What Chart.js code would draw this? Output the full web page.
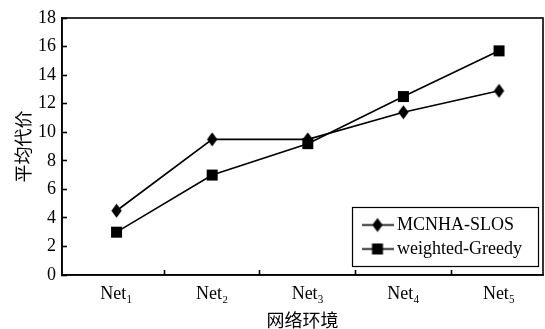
<!DOCTYPE html>
<html>
<head>
<meta charset="utf-8">
<script src="https://cdn.jsdelivr.net/npm/chart.js@4.4.1/dist/chart.umd.min.js"></script>
<style>
  html, body { margin: 0; padding: 0; background: #ffffff; overflow: hidden; }
  #wrap { width: 545px; height: 329px; }
</style>
</head>
<body>
<div id="wrap"><canvas id="c" width="545" height="329"></canvas></div>
<script>
// ---- data ----
const categories = ['Net\u2081', 'Net\u2082', 'Net\u2083', 'Net\u2084', 'Net\u2085'];
const seriesNames = ['MCNHA-SLOS', 'weighted-Greedy'];
const mcnhaSlos = [4.5, 9.5, 9.5, 11.4, 12.9];
const weightedGreedy = [3.0, 7.0, 9.2, 12.5, 15.7];
const yTicks = [0, 2, 4, 6, 8, 10, 12, 14, 16, 18];
const xTitle = '网络环境';
const yTitle = '平均代价';

// axis range (category positions 1..n, plot edges a bit beyond)
const xMin = 0.43, xMax = 5.46;

const serif = 'Liberation Serif';
const cjk = 'Noto Sans CJK SC';

function makeMarker(shape, withLine) {
  const w = withLine ? 32 : 13, h = 17;
  const c = document.createElement('canvas');
  c.width = w; c.height = h;
  const g = c.getContext('2d');
  g.fillStyle = '#000'; g.strokeStyle = '#000';
  const cx = w / 2, cy = h / 2;
  if (withLine) {
    g.lineWidth = 1.6;
    g.beginPath(); g.moveTo(0, cy); g.lineTo(w, cy); g.stroke();
  }
  g.beginPath();
  if (shape === 'diamond') {
    g.moveTo(cx, cy - 7); g.lineTo(cx + 5.2, cy); g.lineTo(cx, cy + 7); g.lineTo(cx - 5.2, cy); g.closePath();
  } else {
    g.rect(cx - 5.5, cy - 5.5, 11, 11);
  }
  g.fill();
  return c;
}
const pointImgs = [makeMarker('diamond', false), makeMarker('square', false)];
const legendImgs = [makeMarker('diamond', true), makeMarker('square', true)];

const seriesValues = [mcnhaSlos, weightedGreedy];
const datasets = seriesValues.map((vals, s) => ({
  label: seriesNames[s],
  data: vals.map((v, i) => ({ x: i + 1, y: v })),
  borderColor: '#000',
  backgroundColor: '#000',
  borderWidth: 1.6,
  pointStyle: pointImgs[s],
  pointRadius: 6,
  pointHoverRadius: 6,
  tension: 0,
  fill: false
}));

function zeroPadding(scale) {
  scale.paddingLeft = 0; scale.paddingRight = 0;
  scale.paddingTop = 0; scale.paddingBottom = 0;
}

const framePlugin = {
  id: 'frameAndLegendBox',
  afterLayout(chart) {
    const a = chart.chartArea;
    const xs = chart.scales.x;
    // plot frame reaches to 2px from the right edge
    const targetRight = chart.width - 2;
    if (a.right !== targetRight) {
      a.right = targetRight;
      a.width = a.right - a.left;
      xs.right = targetRight;
      xs.width = xs.right - xs.left;
      xs.configure();
    }
    const lg = chart.legend;
    const boxLeft = a.right - 191, boxTop = a.bottom - 68;
    lg.left = boxLeft + 9;
    lg.right = lg.left + 180;
    lg.top = boxTop + 3;
    lg.bottom = lg.top + 60;
    chart.$legendBox = { x: boxLeft, y: boxTop, w: 186, h: 59 };
  },
  afterDraw(chart) {
    const ctx = chart.ctx, a = chart.chartArea, b = chart.$legendBox;
    ctx.save();
    ctx.strokeStyle = '#000';
    ctx.lineWidth = 1.6;
    ctx.strokeRect(a.left, a.top, a.right - a.left, a.bottom - a.top);
    if (b) {
      ctx.lineWidth = 1.2;
      ctx.strokeRect(b.x + 0.5, b.y + 0.5, b.w, b.h);
    }
    ctx.restore();
  }
};

new Chart(document.getElementById('c'), {
  type: 'line',
  data: { datasets },
  plugins: [framePlugin],
  options: {
    responsive: false,
    devicePixelRatio: 1,
    animation: false,
    layout: { padding: { left: 8, right: 2, top: 18, bottom: 0 } },
    plugins: {
      tooltip: { enabled: false },
      legend: {
        position: 'chartArea',
        align: 'start',
        labels: {
          font: { family: serif, size: 18 },
          color: '#000',
          usePointStyle: true,
          pointStyleWidth: 21,
          padding: 6,
          generateLabels(chart) {
            const items = Chart.defaults.plugins.legend.labels.generateLabels(chart);
            items.forEach((it, i) => { it.pointStyle = legendImgs[i]; it.fontColor = '#000'; });
            return items;
          }
        }
      }
    },
    scales: {
      x: {
        type: 'linear',
        min: xMin,
        max: xMax,
        afterBuildTicks(axis) {
          const t = [];
          categories.forEach((_, i) => {
            t.push({ value: i + 1 });
            if (i < categories.length - 1) t.push({ value: i + 1.5 });
          });
          axis.ticks = t;
        },
        afterFit(scale) { scale.height = 54; zeroPadding(scale); },
        ticks: {
          autoSkip: false,
          maxRotation: 0,
          font: { family: serif, size: 18 },
          color: '#000',
          padding: 13,
          callback: (value) => Number.isInteger(value) ? categories[value - 1] : ''
        },
        grid: {
          drawOnChartArea: false,
          drawTicks: true,
          tickLength: -5,
          tickWidth: 1.6,
          tickColor: (ctx) => (ctx.tick && Number.isInteger(ctx.tick.value)) ? 'rgba(0,0,0,0)' : '#000'
        },
        border: { display: true, color: '#000', width: 1.6 },
        title: {
          display: true,
          text: xTitle,
          color: '#000',
          font: { family: cjk, size: 18, lineHeight: 1 },
          padding: { top: 6, bottom: 0 }
        }
      },
      y: {
        min: 0,
        max: 18,
        afterBuildTicks(axis) { axis.ticks = yTicks.map(v => ({ value: v })); },
        afterFit(scale) { scale.width = 54; zeroPadding(scale); },
        ticks: {
          font: { family: serif, size: 18 },
          color: '#000',
          padding: 11
        },
        grid: {
          drawOnChartArea: false,
          drawTicks: true,
          tickLength: -5,
          tickWidth: 1.6,
          tickColor: '#000'
        },
        border: { display: true, color: '#000', width: 1.6 },
        title: {
          display: true,
          text: yTitle,
          color: '#000',
          font: { family: cjk, size: 18 },
          padding: { top: 4, bottom: 4 }
        }
      }
    }
  }
});
</script>
</body>
</html>
